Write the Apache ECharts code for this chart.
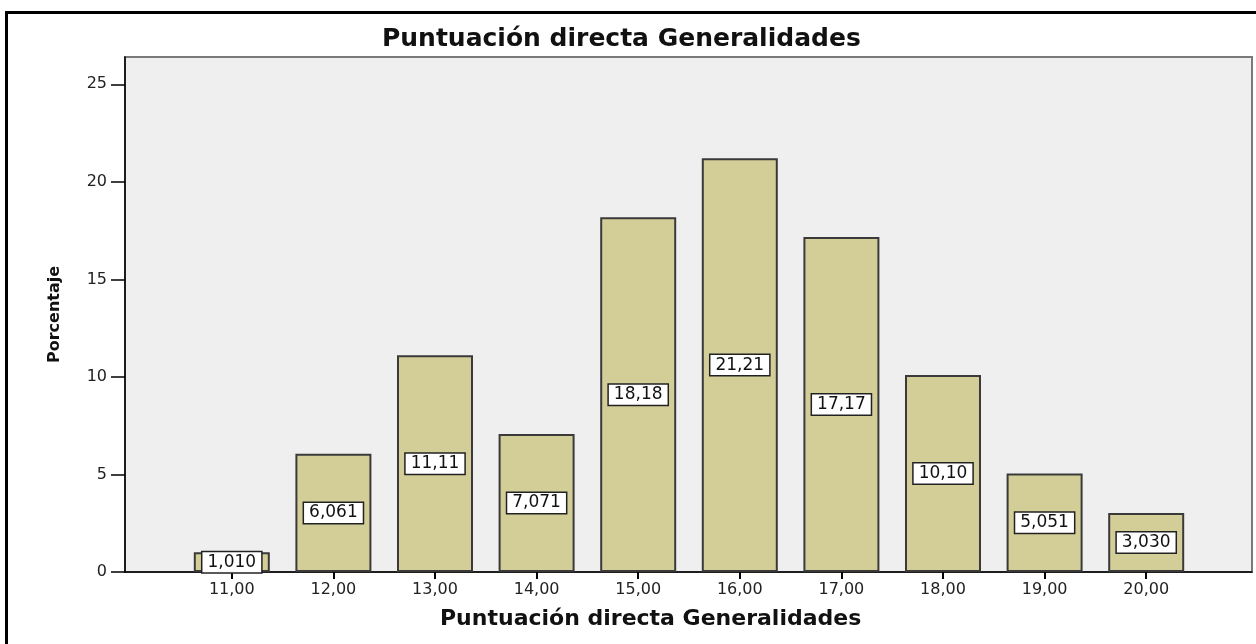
<!DOCTYPE html>
<html>
<head>
<meta charset="utf-8">
<script src="https://cdn.jsdelivr.net/npm/echarts@6/dist/echarts.min.js"></script>
<style>
html,body{margin:0;padding:0;background:#fff;}
#chart{width:1256px;height:644px;}
</style>
</head>
<body>
<div id="chart"></div>
<script>
// ---- data ----
const categories = ['11,00','12,00','13,00','14,00','15,00','16,00','17,00','18,00','19,00','20,00'];
const percentages = [1.010, 6.061, 11.11, 7.071, 18.18, 21.21, 17.17, 10.10, 5.051, 3.030];
const yTicks = [0, 5, 10, 15, 20, 25];
const chartTitle = 'Puntuación directa Generalidades';
const xTitle = 'Puntuación directa Generalidades';
const yTitle = 'Porcentaje';

const FONT = '"DejaVu Sans", "Liberation Sans", Arial, sans-serif';
const yMax = 26.4;

const chart = echarts.init(document.getElementById('chart'), null, {renderer: 'canvas'});

function fmt(v) { return v.toPrecision(4).replace('.', ','); }

const option = {
  animation: false,
  backgroundColor: '#ffffff',
  title: [
    {
      text: chartTitle, left: 382, top: 27, padding: 0,
      textStyle: {fontFamily: FONT, fontSize: 25, fontWeight: 'bold', color: '#111'}
    },
    {
      text: xTitle, left: 440, top: 608, padding: 0,
      textStyle: {fontFamily: FONT, fontSize: 22, fontWeight: 'bold', color: '#111'}
    }
  ],
  graphic: [
    {
      type: 'rect', z: 100, silent: true,
      shape: {x: 6.5, y: 12.5, width: 1300, height: 700},
      style: {fill: 'none', stroke: '#000', lineWidth: 3}
    }
  ],
  grid: [
    {left: 125, right: 4, top: 57, bottom: 72, show: true, backgroundColor: '#efefef',
     borderColor: '#7a7a7a', borderWidth: 2},
    {left: 181, width: 1016, top: 57, bottom: 72}
  ],
  xAxis: [
    {
      type: 'value', gridIndex: 0, min: 0, max: 1,
      axisLine: {show: true, lineStyle: {color: '#000', width: 1.5}},
      axisTick: {show: false}, axisLabel: {show: false}, splitLine: {show: false}
    },
    {
      type: 'category', gridIndex: 1, data: categories,
      axisLine: {show: false},
      axisTick: {show: true, alignWithLabel: true, length: 7, lineStyle: {color: '#000', width: 2}},
      axisLabel: {fontFamily: FONT, fontSize: 16, color: '#222', margin: 10},
      splitLine: {show: false}
    }
  ],
  yAxis: [
    {
      type: 'value', gridIndex: 0, min: 0, max: yMax,
      name: yTitle, nameLocation: 'middle', nameRotate: 90, nameGap: 62,
      nameTextStyle: {fontFamily: FONT, fontSize: 16, fontWeight: 'bold', color: '#111'},
      axisLine: {show: true, lineStyle: {color: '#000', width: 1.5}},
      axisTick: {show: true, length: 14, customValues: yTicks, lineStyle: {color: '#000', width: 1.5}},
      axisLabel: {fontFamily: FONT, fontSize: 16, color: '#222', margin: 18, customValues: yTicks},
      splitLine: {show: false}
    },
    {
      type: 'value', gridIndex: 1, min: 0, max: yMax, show: false
    }
  ],
  series: [
    {
      type: 'bar', xAxisIndex: 1, yAxisIndex: 1,
      data: percentages,
      barWidth: 76,
      itemStyle: {color: '#d3ce97', borderColor: '#3a3a3a', borderWidth: 2},
      label: {
        show: true, position: 'inside',
        formatter: p => fmt(p.value),
        fontFamily: FONT, fontSize: 17, color: '#111',
        backgroundColor: '#ffffff', borderColor: '#222', borderWidth: 1.5,
        padding: [2, 5, 1, 5]
      }
    }
  ]
};

chart.setOption(option);
</script>
</body>
</html>
